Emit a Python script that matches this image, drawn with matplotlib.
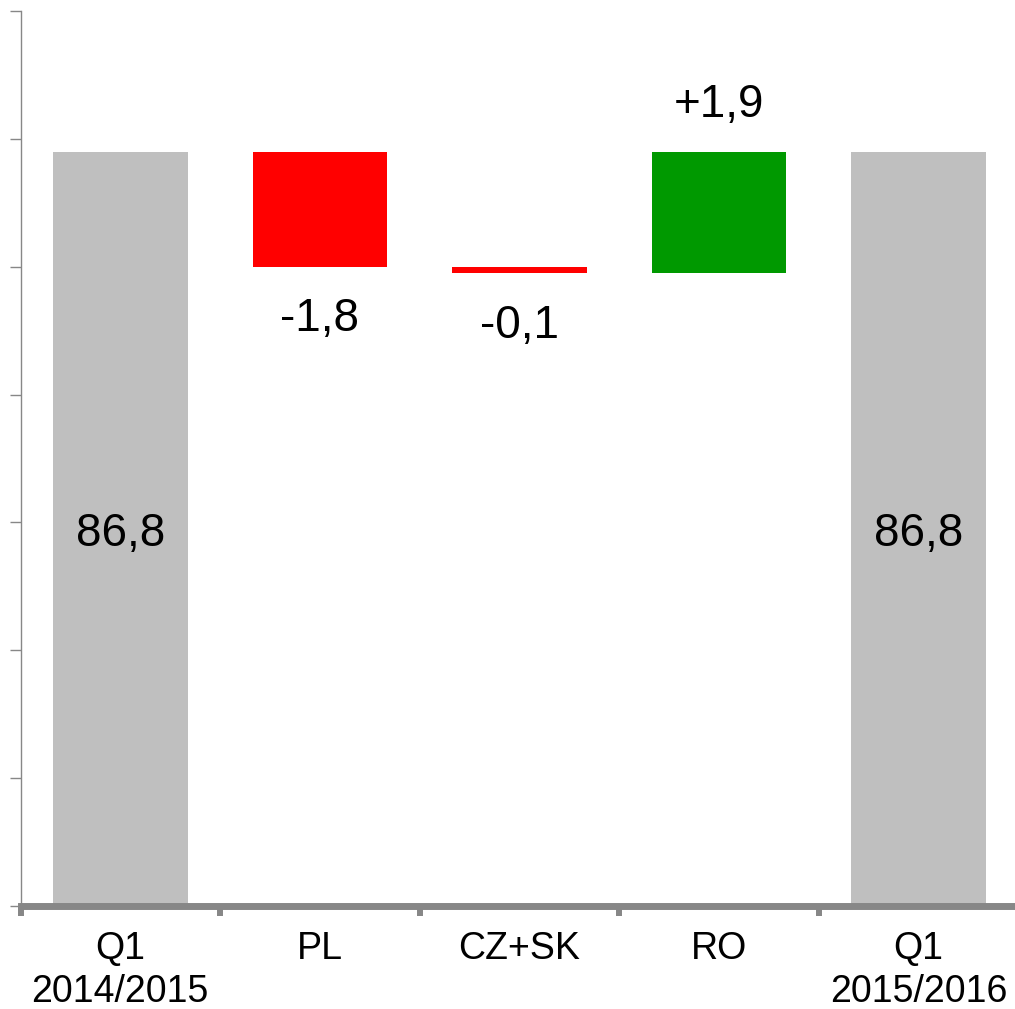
import matplotlib
matplotlib.use("Agg")
import matplotlib.pyplot as plt
import numpy as np

plt.rcParams['font.family'] = ['Liberation Sans', 'DejaVu Sans']

categories = ["Q1\n2014/2015", "PL", "CZ+SK", "RO", "Q1\n2015/2016"]
start_total = 86.8
deltas = [-1.8, -0.1, 1.9]
end_total = 86.8
delta_labels = ["-1,8", "-0,1", "+1,9"]
total_labels = ["86,8", "86,8"]
y_min, y_max, y_step = 75, 89, 2

GRAY = "#BFBFBF"
RED = "#FF0000"
GREEN = "#009900"
AXIS = "#878787"

fig = plt.figure(figsize=(10.15, 10.09), dpi=100)
ax = fig.add_axes([20.5 / 1015, 103 / 1009, 998 / 1015, 895 / 1009])

x = np.arange(len(categories))
width = 0.675

# totals
ax.bar(x[0], start_total - y_min, bottom=y_min, width=width, color=GRAY, zorder=2)
ax.bar(x[-1], end_total - y_min, bottom=y_min, width=width, color=GRAY, zorder=2)

# deltas
level = start_total
delta_pos = x[1:-1]
for xi, d, lab in zip(delta_pos, deltas, delta_labels):
    new = level + d
    col = GREEN if d > 0 else RED
    ax.bar(xi, new - level, bottom=level, width=width, color=col, zorder=2)
    if d > 0:
        ax.annotate(lab, (xi, new), xytext=(0, 17.5), textcoords="offset points",
                    ha="center", va="bottom", fontsize=33)
    else:
        ax.annotate(lab, (xi, new), xytext=(0, -22), textcoords="offset points",
                    ha="center", va="top", fontsize=33)
    level = new

for xi, val, lab in [(x[0], start_total, total_labels[0]), (x[-1], end_total, total_labels[1])]:
    ax.text(xi, (val + y_min) / 2, lab, ha="center", va="center_baseline", fontsize=33)

ax.set_xlim(-0.5, len(categories) - 0.5)
ax.set_ylim(y_min, y_max)
ax.set_yticks(np.arange(y_min, y_max + 0.1, y_step))
ax.set_yticklabels([])

ax.set_xticks(np.arange(-0.5, len(categories), 1.0))
ax.set_xticklabels([])
ax.set_xticks(x, categories, minor=True)
ax.tick_params(axis="x", which="minor", length=0, pad=18, labelsize=27)
for t in ax.get_xticklabels(minor=True):
    t.set_linespacing(1.24)
ax.tick_params(axis="x", which="major", length=7.2, width=4.3, color=AXIS, direction="out")
ax.tick_params(axis="y", which="major", length=8, width=1.0, color=AXIS, direction="out")

for s in ["top", "right"]:
    ax.spines[s].set_visible(False)
ax.spines["left"].set_color(AXIS)
ax.spines["left"].set_linewidth(1.0)
ax.spines["bottom"].set_color(AXIS)
ax.spines["bottom"].set_linewidth(5.0)
ax.spines["bottom"].set_zorder(3)

fig.savefig("out.png", dpi=100)
